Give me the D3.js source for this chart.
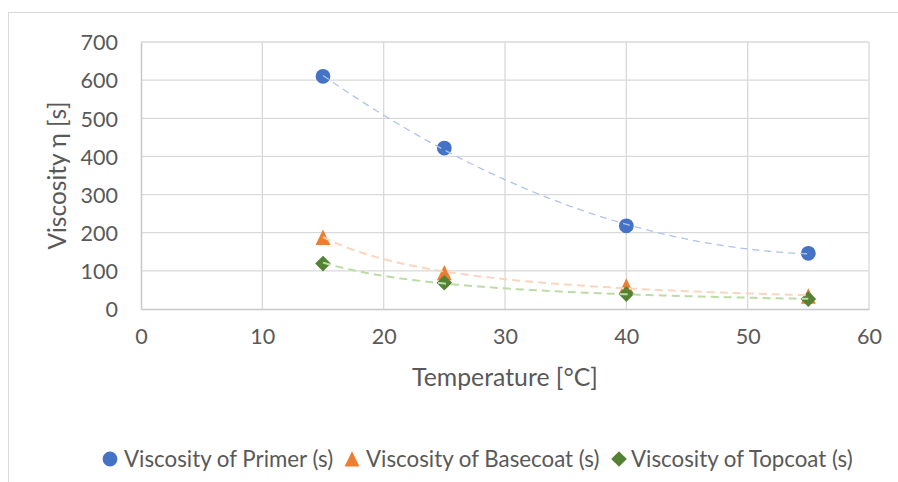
<!DOCTYPE html>
<html>
<head>
<meta charset="utf-8">
<script src="https://cdn.jsdelivr.net/npm/d3@7"></script>
<style>
  html, body { margin: 0; padding: 0; background: #fff; }
  svg { display: block; }
  text { font-family: Lato, "Open Sans", sans-serif; fill: #595959; }
</style>
</head>
<body>
<svg id="chart" width="898" height="482"></svg>
<script>
// Measured viscosity (flow time, s) at each temperature
const temperatures = [15, 25, 40, 55];
const primer   = [610, 422, 218, 146];
const basecoat = [188, 95, 60, 34];
const topcoat  = [119, 69, 39, 26];

const seriesNames = ["Viscosity of Primer (s)", "Viscosity of Basecoat (s)", "Viscosity of Topcoat (s)"];
const xTicks = [0, 10, 20, 30, 40, 50, 60];
const yTicks = [0, 100, 200, 300, 400, 500, 600, 700];

const series = [
  { name: seriesNames[0], values: primer,   color: "#4472C4", trend: "#AFC4EA", trendWidth: 1.3, dash: "7,5", fit: "poly2", shape: "circle" },
  { name: seriesNames[1], values: basecoat, color: "#ED7D31", trend: "#FAD6C0", trendWidth: 2,   dash: "8,5", fit: "power", shape: "triangle" },
  { name: seriesNames[2], values: topcoat,  color: "#548235", trend: "#BCDCA6", trendWidth: 2,   dash: "8,5", fit: "power", shape: "diamond" }
];

const svg = d3.select("#chart");
const plot = { left: 141, right: 869, top: 42, bottom: 309 };

const x = d3.scaleLinear().domain([0, 60]).range([plot.left, plot.right]);
const y = d3.scaleLinear().domain([0, 700]).range([plot.bottom, plot.top]);

// Chart area frame
svg.append("rect")
  .attr("x", 8.5).attr("y", 12.5)
  .attr("width", 1000).attr("height", 1000)
  .attr("fill", "none").attr("stroke", "#d9d9d9").attr("stroke-width", 1);

// Gridlines
const grid = svg.append("g");
grid.selectAll(".hg").data(yTicks.filter(d => d > 0)).join("line")
  .attr("x1", plot.left).attr("x2", plot.right)
  .attr("y1", d => y(d)).attr("y2", d => y(d))
  .attr("stroke", "#d9d9d9").attr("stroke-width", 1.3);
grid.selectAll(".vg").data(xTicks.filter(d => d > 0)).join("line")
  .attr("y1", plot.top).attr("y2", plot.bottom)
  .attr("x1", d => x(d)).attr("x2", d => x(d))
  .attr("stroke", "#d9d9d9").attr("stroke-width", 1.3);

// Axes
const xAxis = svg.append("g")
  .attr("transform", `translate(0,${plot.bottom})`)
  .call(d3.axisBottom(x).tickValues(xTicks).tickSize(0).tickPadding(20));
const yAxis = svg.append("g")
  .attr("transform", `translate(${plot.left},0)`)
  .call(d3.axisLeft(y).tickValues(yTicks).tickSize(0).tickPadding(23));
[xAxis, yAxis].forEach(a => {
  a.select(".domain").attr("stroke", "#c8c8c8").attr("stroke-width", 1.5);
  a.selectAll("text").style("font-size", "21.5px").attr("fill", "#595959");
});
yAxis.selectAll("text").attr("dy", "0.36em");
xAxis.selectAll("text").attr("dy", "0.71em");

// Axis titles
svg.append("text")
  .attr("x", (plot.left + plot.right) / 2).attr("y", 386)
  .attr("text-anchor", "middle").style("font-size", "24.8px")
  .text("Temperature [°C]");
svg.append("text")
  .attr("transform", `translate(66,${(plot.top + plot.bottom) / 2}) rotate(-90)`)
  .attr("text-anchor", "middle").style("font-size", "24.5px")
  .text("Viscosity η [s]");

// Marker shapes, centred on the point
function markerPath(shape) {
  if (shape === "circle") return d3.symbol(d3.symbolCircle, Math.PI * 7.4 * 7.4)();
  if (shape === "triangle") return "M0,-7.8L7.4,7.6L-7.4,7.6Z";
  return "M0,-7.8L7.8,0L0,7.8L-7.8,0Z";
}

// Least-squares polynomial (order 2) trendline
function polyFit(xs, ys) {
  const S = k => d3.sum(xs, v => Math.pow(v, k));
  const T = k => d3.sum(xs, (v, i) => Math.pow(v, k) * ys[i]);
  const A = [[S(0), S(1), S(2)], [S(1), S(2), S(3)], [S(2), S(3), S(4)]];
  const b = [T(0), T(1), T(2)];
  for (let i = 0; i < 3; i++) {
    for (let j = i + 1; j < 3; j++) {
      const f = A[j][i] / A[i][i];
      for (let k = i; k < 3; k++) A[j][k] -= f * A[i][k];
      b[j] -= f * b[i];
    }
  }
  const c = [0, 0, 0];
  for (let i = 2; i >= 0; i--) {
    let s = b[i];
    for (let k = i + 1; k < 3; k++) s -= A[i][k] * c[k];
    c[i] = s / A[i][i];
  }
  return t => c[0] + c[1] * t + c[2] * t * t;
}

// Power-law trendline y = a * x^b, fitted on logarithms
function powerFit(xs, ys) {
  const lx = xs.map(Math.log), ly = ys.map(Math.log);
  const mx = d3.mean(lx), my = d3.mean(ly);
  const b = d3.sum(lx, (v, i) => (v - mx) * (ly[i] - my)) / d3.sum(lx, v => (v - mx) * (v - mx));
  const a = Math.exp(my - b * mx);
  return t => a * Math.pow(t, b);
}

const line = d3.line().x(d => x(d[0])).y(d => y(d[1]));
const tMin = d3.min(temperatures), tMax = d3.max(temperatures);
const samples = d3.range(0, 101).map(i => tMin + (tMax - tMin) * i / 100);

// Markers
series.forEach(s => {
  svg.append("g").selectAll("path")
    .data(temperatures.map((t, i) => [t, s.values[i]]))
    .join("path")
    .attr("transform", d => `translate(${x(d[0])},${y(d[1])})`)
    .attr("d", markerPath(s.shape))
    .attr("fill", s.color);
});

// Trendlines drawn over the markers
series.forEach(s => {
  const f = s.fit === "power" ? powerFit(temperatures, s.values) : polyFit(temperatures, s.values);
  svg.append("path")
    .datum(samples.map(t => [t, f(t)]))
    .attr("d", line)
    .attr("fill", "none")
    .attr("stroke", s.trend)
    .attr("stroke-width", s.trendWidth)
    .attr("stroke-dasharray", s.dash);
});

// Legend
const legendItems = [
  { xMarker: 110, xText: 124 },
  { xMarker: 352, xText: 366 },
  { xMarker: 619, xText: 631 }
];
const legend = svg.append("g");
series.forEach((s, i) => {
  const it = legendItems[i];
  legend.append("path")
    .attr("transform", `translate(${it.xMarker},459)`)
    .attr("d", markerPath(s.shape))
    .attr("fill", s.color);
  legend.append("text")
    .attr("x", it.xText).attr("y", 459).attr("dy", "0.35em")
    .style("font-size", "22.3px")
    .text(s.name);
});
</script>
</body>
</html>
